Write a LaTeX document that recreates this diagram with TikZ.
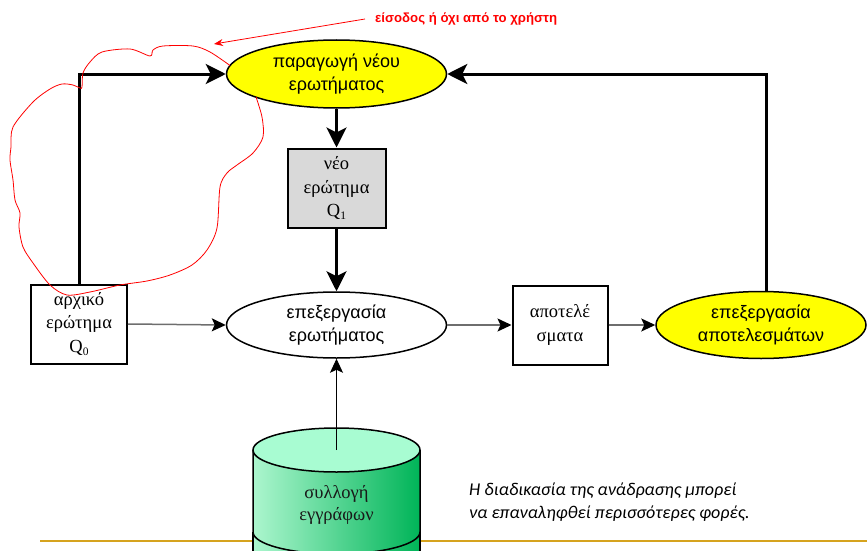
\documentclass[tikz,border=0pt]{standalone}
\usepackage{fontspec}
\setmainfont{Liberation Serif}
\newfontfamily\arialfont{Liberation Sans}
\newfontfamily\notefont{Carlito}
\usepackage{tikz}
\usetikzlibrary{arrows.meta,shapes.geometric}
\definecolor{hlyellow}{RGB}{255,255,0}
\definecolor{qgray}{RGB}{217,217,217}
\definecolor{dbtopgreen}{RGB}{168,252,210}
\definecolor{dblight}{RGB}{172,246,206}
\definecolor{dbdark}{RGB}{0,180,88}
\definecolor{slidegold}{RGB}{214,163,30}
\definecolor{notered}{RGB}{255,0,0}
\definecolor{flowgray}{RGB}{110,110,110}
\newcommand\lowidx[1]{\raisebox{-0.35ex}{\fontsize{11.5}{11.5}\selectfont #1}}
\tikzset{>={Stealth[length=20pt,width=20pt,inset=5pt]},
  thinarrow/.style={-{Stealth[length=14pt,width=13pt,inset=3pt,black]}},
  procoval/.style={ellipse,draw,line width=1.5pt,inner sep=0pt,align=center,
    font=\arialfont\fontsize{18}{23}\selectfont},
  qbox/.style={rectangle,draw,line width=2pt,fill=white,inner sep=0pt,align=center,
    font=\fontsize{18.5}{23.5}\selectfont},
  thickflow/.style={line width=3pt,->},
  thinflow/.style={line width=1.5pt,flowgray,thinarrow}}

\begin{document}
\begin{tikzpicture}[x=1pt,y=-1pt]
\useasboundingbox (0,0) rectangle (867,551);
\draw[slidegold,line width=2pt] (40,541) -- (867,541);
% document collection
\begin{scope}
  \clip (0,0) rectangle (867,551);
  \shade[left color=dblight,right color=dbdark] (253,532) rectangle (420,580);
  \draw[line width=1.5pt] (253,532) -- (253,580) (420,532) -- (420,580);
  \shade[left color=dblight,right color=dbdark] (253,450) -- (253,532)
    arc[start angle=180,end angle=0,x radius=83.5,y radius=22] -- (420,450) -- cycle;
  \draw[line width=1.5pt] (253,450) -- (253,532)
    arc[start angle=180,end angle=0,x radius=83.5,y radius=22] -- (420,450);
  \draw[line width=1.5pt,fill=dbtopgreen] (336.5,450) ellipse[x radius=83.5,y radius=22];
\end{scope}
\coordinate (dbtop) at (336.5,450);
\node[font=\fontsize{18.5}{22}\selectfont,text=black!90,align=center] (dblabel) at (336.5,505) {συλλογή\\εγγράφων};

\node[procoval,fill=hlyellow,minimum width=220pt,minimum height=68pt] (gen) at (336.5,74) {παραγωγή νέου\\ερωτήματος};
\node[qbox,fill=qgray,minimum width=98pt,minimum height=79pt] (newq) at (336.5,188) {νέο\\ερώτημα\\Q\lowidx{1}};
\node[qbox,minimum width=96pt,minimum height=79pt] (initq) at (79,324) {αρχικό\\ερώτημα\\Q\lowidx{0}};
\node[procoval,fill=white,minimum width=220pt,minimum height=66pt] (proc) at (336.5,325) {επεξεργασία\\ερωτήματος};
\node[qbox,minimum width=95pt,minimum height=79pt] (results) at (560,325) {αποτελέ\\σματα};
\node[procoval,fill=hlyellow,minimum width=210pt,minimum height=67pt] (resproc) at (761,325) {επεξεργασία\\αποτελεσμάτων};

\draw[thickflow] (initq.north) |- (gen.west);
\draw[thickflow] ([xshift=5pt]resproc.north) |- (gen.east);
\draw[thickflow] (gen.south) -- (newq.north);
\draw[thickflow] (newq.south) -- (proc.north);
\draw[thinflow] (initq.east) -- (proc.west);
\draw[thinflow] (proc.east) -- (results.west);
\draw[thinflow] (results.east) -- (resproc.west);
\draw[line width=1pt,thinarrow] (dbtop) -- (proc.south);

% user input note
\node[anchor=west,text=notered,inner sep=0pt,font=\arialfont\bfseries\fontsize{13.2}{15}\selectfont] (usernote) at (375,19) {είσοδος ή όχι από το χρήστη};
\coordinate (notetip) at (214,44);
\draw[notered,line width=0.8pt,-{Stealth[length=9pt,width=7pt]}] ([xshift=-10pt]usernote.west) -- (notetip);
\draw[notered,line width=0.8pt] plot[smooth] coordinates {(256,97) (262,117) (263,137) (253,153) (237,165) (227,173) (220,187) (217,228) (207,250) (192,265) (170,275) (147,281) (120,285) (90,292) (67,295) (50,285) (33,263) (23,247) (19,227) (20,213) (15,200) (13,180) (10,160) (11,147) (13,127) (33,102) (50,89) (62,84) (73,85) (80,88) (82,87) (83,73) (90,62) (102,52) (130,49) (150,56) (153,50) (163,46) (193,46) (210,52) (230,65.5)};

\node[anchor=north west,align=left,inner sep=0pt,font=\notefont\itshape\fontsize{18}{22.5}\selectfont] (remark) at (469,483) {Η διαδικασία της ανάδρασης μπορεί\\να επαναληφθεί περισσότερες φορές.};
\end{tikzpicture}
\end{document}
